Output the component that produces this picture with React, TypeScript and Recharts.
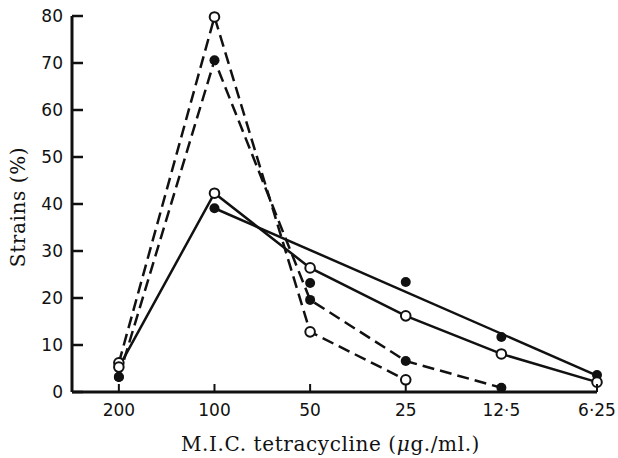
import React from "react";
import { ComposedChart, Line, XAxis, YAxis } from "recharts";

const categories = ["200", "100", "50", "25", "12·5", "6·25"];
const dashedOpen = [6.2, 79.8, 12.8, 2.6, null, null];
const dashedFilled = [3.2, 70.6, 19.6, 6.6, 0.9, null];
const solidOpen = [5.3, 42.3, 26.4, 16.2, 8.1, 2.1];
const solidFilled = [3.2, 39.1, 23.2, 23.4, 11.7, 3.6];
const fitLine = [null, 39.1, null, null, null, 3.5];
const yTicks = [0, 10, 20, 30, 40, 50, 60, 70, 80];

const data = categories.map((c, i) => ({
  x: i,
  dashedOpen: dashedOpen[i],
  dashedFilled: dashedFilled[i],
  solidOpen: solidOpen[i],
  solidFilled: solidFilled[i],
  fitLine: fitLine[i],
}));

const INK = "#111";
const tickFont = { fontFamily: "'DejaVu Sans', sans-serif", fontSize: 17, fill: INK };
const labelFont = { fontFamily: "'DejaVu Serif', serif", fontSize: 20, fill: INK, letterSpacing: 0.6 };

const XTick = (props: any) => {
  const { x, y, payload } = props;
  return (
    <g>
      <line x1={x} y1={y} x2={x} y2={y - 8} stroke={INK} strokeWidth={2} />
      <text x={x} y={y + 24} textAnchor="middle" {...tickFont}>
        {categories[payload.value]}
      </text>
    </g>
  );
};

const YTick = (props: any) => {
  const { x, y, payload } = props;
  return (
    <g>
      <line x1={x} y1={y} x2={x + 11} y2={y} stroke={INK} strokeWidth={2.5} />
      <text x={x - 9} y={y + 6} textAnchor="end" {...tickFont}>
        {payload.value}
      </text>
    </g>
  );
};

const OpenDot = (props: any) => {
  const { cx, cy, value } = props;
  if (value == null || cx == null || cy == null) return <g key={props.key} />;
  return <circle key={props.key} cx={cx} cy={cy} r={4.8} fill="#fff" stroke={INK} strokeWidth={2} />;
};

const FilledDot = (props: any) => {
  const { cx, cy, value } = props;
  if (value == null || cx == null || cy == null) return <g key={props.key} />;
  return <circle key={props.key} cx={cx} cy={cy} r={5} fill={INK} />;
};

export default function App() {
  return (
    <div style={{ position: "absolute", left: 0, top: 0, background: "#fff" }}>
      <ComposedChart
        width={618}
        height={458}
        data={data}
        margin={{ top: 16, right: 21, bottom: 0, left: 0 }}
      >
        <XAxis
          dataKey="x"
          type="number"
          domain={[-0.49, 5]}
          ticks={[0, 1, 2, 3, 4, 5]}
          interval={0}
          height={66}
          tickLine={false}
          tickSize={0}
          tickMargin={0}
          tick={<XTick />}
          axisLine={{ stroke: INK, strokeWidth: 3 }}
          label={{
            content: (p: any) => {
              const vb = p.viewBox;
              return (
                <text x={vb.x + vb.width / 2 - 4} y={vb.y + 59} textAnchor="middle" {...labelFont}>
                  M.I.C. tetracycline (<tspan fontStyle="italic">μ</tspan>g./ml.)
                </text>
              );
            },
          }}
        />
        <YAxis
          type="number"
          domain={[0, 80]}
          ticks={yTicks}
          interval={0}
          width={72}
          tickLine={false}
          tickSize={0}
          tickMargin={0}
          tick={<YTick />}
          axisLine={{ stroke: INK, strokeWidth: 3 }}
          label={{
            content: (p: any) => {
              const vb = p.viewBox;
              const cx = vb.x + 25;
              const cy = vb.y + vb.height / 2 + 3;
              return (
                <text
                  x={cx}
                  y={cy}
                  textAnchor="middle"
                  transform={`rotate(-90, ${cx}, ${cy})`}
                  {...labelFont}
                >
                  Strains (%)
                </text>
              );
            },
          }}
        />
        <Line
          dataKey="fitLine"
          stroke={INK}
          strokeWidth={2.5}
          connectNulls
          dot={false}
          isAnimationActive={false}
        />
        <Line
          dataKey="solidFilled"
          stroke="none"
          dot={<FilledDot />}
          isAnimationActive={false}
        />
        <Line
          dataKey="dashedFilled"
          stroke={INK}
          strokeWidth={2.5}
          strokeDasharray="12 6"
          dot={<FilledDot />}
          isAnimationActive={false}
        />
        <Line
          dataKey="dashedOpen"
          stroke={INK}
          strokeWidth={2.5}
          strokeDasharray="12 6"
          dot={<OpenDot />}
          isAnimationActive={false}
        />
        <Line
          dataKey="solidOpen"
          stroke={INK}
          strokeWidth={2.5}
          dot={<OpenDot />}
          isAnimationActive={false}
        />
      </ComposedChart>
    </div>
  );
}
